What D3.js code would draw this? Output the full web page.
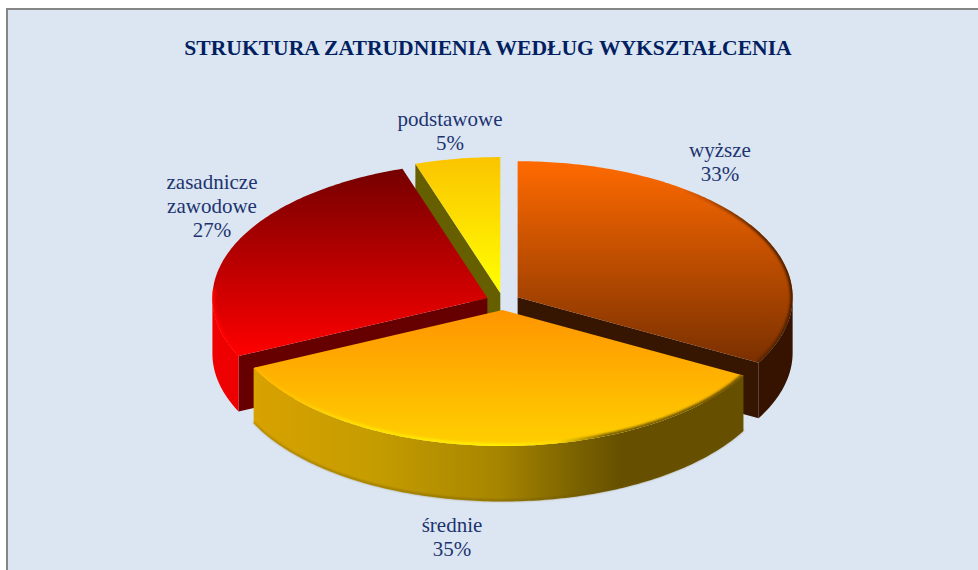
<!DOCTYPE html>
<html lang="pl">
<head>
<meta charset="utf-8">
<script src="https://cdn.jsdelivr.net/npm/d3@7"></script>
<style>
html,body{margin:0;padding:0;background:#fff;overflow:hidden}
svg{display:block}
text{font-family:"Liberation Serif",serif}
</style>
</head>
<body>
<svg id="chart" width="978" height="570"></svg>
<script>
// ---- data ----
const chartTitle = "STRUKTURA ZATRUDNIENIA WEDŁUG WYKSZTAŁCENIA";
const categories = ["wyższe", "średnie", "zasadnicze zawodowe", "podstawowe"];
const values = [33, 35, 27, 5];

// ---- layout ----
const W = 978, H = 570;
const cx = 503, cy = 301.5, rx = 275, ry = 136, depth = 55.5;
const explodeX = 17, explodeY = 8.5;

const labelPlace = {
  "wyższe": {x: 720, y: 156.5, lines: ["wyższe"]},
  "średnie": {x: 452, y: 531.5, lines: ["średnie"]},
  "zasadnicze zawodowe": {x: 212, y: 188.5, lines: ["zasadnicze", "zawodowe"]},
  "podstawowe": {x: 450, y: 126, lines: ["podstawowe"]}
};
const faceStops = {
  "wyższe": ["#ff6a00", "#7a3000"],
  "średnie": ["#ff9500", "#ffd000"],
  "zasadnicze zawodowe": ["#740000", "#ff0000"],
  "podstawowe": ["#fbc400", "#ffff00"]
};
const cutColor = {
  "wyższe": "#361600",
  "zasadnicze zawodowe": "#660000",
  "podstawowe": "#665f00"
};
const sideStops = {
  "wyższe": [[0, "#331100"], [1, "#351300"]],
  "średnie": [[0, "#d8a200"], [0.25, "#c59c00"], [0.5, "#a68500"], [0.66, "#7a6200"], [0.75, "#665000"], [1, "#665000"]],
  "zasadnicze zawodowe": [[0, "#f00000"], [1, "#d80000"]],
  "podstawowe": [[0, "#665f00"], [1, "#665f00"]]
};
const rimStops = {
  "wyższe": [[0, "rgba(90,38,0,0)"], [0.6, "rgba(90,38,0,0)"], [0.85, "rgba(90,38,0,0.9)"], [1, "#4a1e00"]],
  "średnie": [[0, "#ffb400"], [0.2, "#ffdf00"], [0.5, "#fff000"], [0.62, "#ffd800"], [0.72, "#7a6000"], [1, "#6a5200"]],
  "zasadnicze zawodowe": [[0, "#ff0000"], [1, "#ff0000"]]
};
// how far along each slice's own arc the bevel runs (0..1 of the arc)
const rimSpan = {
  "wyższe": [0, 1],
  "średnie": [0, 1],
  "zasadnicze zawodowe": [0, 0.3]
};

// ---- geometry ----
const svg = d3.select("#chart");
const defs = svg.append("defs");
defs.append("filter").attr("id", "soft").attr("x", "-5%").attr("y", "-5%").attr("width", "110%").attr("height", "110%")
  .append("feGaussianBlur").attr("stdDeviation", 0.9);

const pie = d3.pie().sort(null).value(d => d)(values);
const slices = pie.map((p, i) => {
  const mid = (p.startAngle + p.endAngle) / 2;
  return {
    name: categories[i], a0: p.startAngle, a1: p.endAngle, value: p.value, idx: i,
    ox: cx + explodeX * Math.sin(mid),
    oy: cy - explodeY * Math.cos(mid)
  };
});
const project = (s, a, dz = 0) => [s.ox + rx * Math.sin(a), s.oy - ry * Math.cos(a) + dz];
const sampleAngles = (a0, a1) => {
  const n = Math.max(2, Math.ceil((a1 - a0) / 0.015));
  return d3.range(n + 1).map(k => a0 + (a1 - a0) * k / n);
};
const line = d3.line();

function topPath(s) {
  const pts = [[s.ox, s.oy]].concat(sampleAngles(s.a0, s.a1).map(a => project(s, a)));
  return line(pts) + "Z";
}
function cutPath(s, a) {
  return line([[s.ox, s.oy], project(s, a), project(s, a, depth), [s.ox, s.oy + depth]]) + "Z";
}
function sidePath(s, a0, a1) {
  const up = sampleAngles(a0, a1).map(a => project(s, a));
  const down = sampleAngles(a0, a1).reverse().map(a => project(s, a, depth));
  return line(up.concat(down)) + "Z";
}
function linearGrad(id, x1, y1, x2, y2, stops) {
  const g = defs.append("linearGradient").attr("id", id).attr("gradientUnits", "userSpaceOnUse")
    .attr("x1", x1).attr("y1", y1).attr("x2", x2).attr("y2", y2);
  stops.forEach(st => g.append("stop").attr("offset", st[0]).attr("stop-color", st[1]));
  return `url(#${id})`;
}

// ---- panel ----
svg.append("rect").attr("x", 7).attr("y", 9).attr("width", W + 20).attr("height", H + 20)
  .attr("fill", "#dce6f2").attr("stroke", "#868686").attr("stroke-width", 2);

svg.append("text").attr("x", 488).attr("y", 55).attr("text-anchor", "middle")
  .attr("font-size", 21.6).attr("font-weight", "bold").attr("fill", "#002060").text(chartTitle);

// ---- slices, back to front ----
const order = ["podstawowe", "zasadnicze zawodowe", "wyższe", "średnie"];
const Q = Math.PI / 2, T = 3 * Math.PI / 2;
order.forEach(name => {
  const s = slices.find(d => d.name === name);
  const g = svg.append("g").attr("class", "slice");
  const ys = sampleAngles(s.a0, s.a1).map(a => project(s, a)[1]).concat(s.oy);
  const xs = sampleAngles(s.a0, s.a1).map(a => project(s, a)[0]).concat(s.ox);
  const [yMin, yMax] = d3.extent(ys), [xMin, xMax] = d3.extent(xs);

  if (name === "zasadnicze zawodowe" || name === "podstawowe") g.append("path").attr("d", cutPath(s, s.a0)).attr("fill", cutColor[name]);
  if (name === "wyższe") g.append("path").attr("d", cutPath(s, s.a1)).attr("fill", cutColor[name]);

  // outer wall (front half of the ellipse only)
  const w0 = Math.max(s.a0, Q), w1 = Math.min(s.a1, T);
  if (w1 > w0) {
    const fill = linearGrad("side" + s.idx, xMin, 0, xMax, 0, sideStops[name]);
    g.append("path").attr("d", sidePath(s, w0, w1)).attr("fill", fill);
    if (name === "średnie") {
      g.append("path").attr("d", line(sampleAngles(w0, w1).map(a => project(s, a, depth - 1))))
        .attr("fill", "none").attr("stroke", "#6a5400").attr("stroke-width", 1).attr("filter", "url(#soft)");
    }
  }

  // top face
  const face = linearGrad("face" + s.idx, 0, yMin, 0, yMax, [[0, faceStops[name][0]], [1, faceStops[name][1]]]);
  g.append("path").attr("d", topPath(s)).attr("fill", face);

  // bevelled rim, kept inside the face
  if (rimStops[name]) {
    defs.append("clipPath").attr("id", "clip" + s.idx).append("path").attr("d", topPath(s));
    const rimFill = linearGrad("rim" + s.idx, xMin, 0, xMax, 0, rimStops[name]);
    const [f0, f1] = rimSpan[name];
    const r0 = s.a0 + (s.a1 - s.a0) * f0, r1 = s.a0 + (s.a1 - s.a0) * f1;
    g.append("g").attr("clip-path", `url(#clip${s.idx})`)
      .append("path").attr("d", line(sampleAngles(r0, r1).map(a => project(s, a))))
      .attr("fill", "none").attr("stroke", rimFill)
      .attr("stroke-width", 5).attr("filter", "url(#soft)");
  }
});

// ---- labels ----
const labels = svg.append("g").attr("fill", "#1c3470").attr("font-size", 21).attr("text-anchor", "middle");
slices.forEach(s => {
  const p = labelPlace[s.name];
  const t = labels.append("text").attr("x", p.x).attr("y", p.y);
  p.lines.concat(`${s.value}%`).forEach((ln, k) => {
    t.append("tspan").attr("x", p.x).attr("y", p.y + k * 24).text(ln);
  });
});
</script>
</body>
</html>
